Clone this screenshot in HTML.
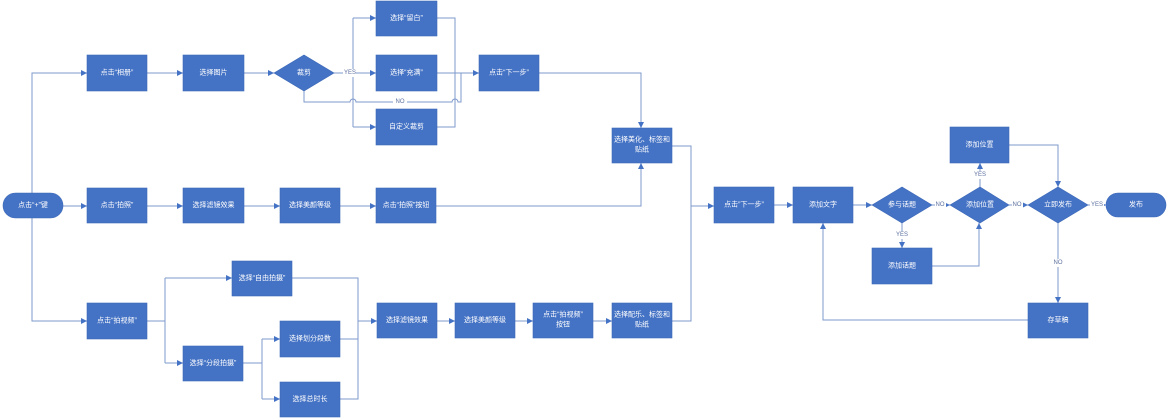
<!DOCTYPE html>
<html>
<head>
<meta charset="utf-8">
<style>
html,body{margin:0;padding:0;background:#fff;}
svg{display:block;}
text{font-family:"Liberation Sans","Noto Sans CJK SC",sans-serif;}
.bt{fill:#fff;font-size:7px;text-anchor:middle;dominant-baseline:central;}
.lb{fill:#5b6f9e;font-size:6px;text-anchor:middle;dominant-baseline:central;}
.ln{fill:none;stroke:#7f98cc;stroke-width:1;}
.bx{fill:#4472c4;stroke:#3d69b8;stroke-width:0.6;}
</style>
</head>
<body>
<svg width="1169" height="418" viewBox="0 0 1169 418" xmlns="http://www.w3.org/2000/svg">
<defs>
<marker id="a" markerUnits="userSpaceOnUse" markerWidth="7" markerHeight="7" refX="6" refY="3.5" orient="auto">
<path d="M0,0.5 L6,3.5 L0,6.5 z" fill="#4472c4"/>
</marker>
</defs>

<!-- connectors -->
<g class="ln">
<!-- start branches -->
<path d="M63,206 H87" marker-end="url(#a)"/>
<path d="M32,193 V73 H87" marker-end="url(#a)"/>
<path d="M32,218 V321 H87" marker-end="url(#a)"/>
<!-- row 1 -->
<path d="M147,73 H183" marker-end="url(#a)"/>
<path d="M244,73 H274" marker-end="url(#a)"/>
<path d="M334,73 H376" marker-end="url(#a)"/>
<path d="M353,18 V127"/>
<path d="M353,18 H376" marker-end="url(#a)"/>
<path d="M353,127 H376" marker-end="url(#a)"/>
<path d="M437,18 H455 V127 H437"/>
<path d="M437,73 H479" marker-end="url(#a)"/>
<path d="M304,91 V102 H350 a3,3 0 0 1 6,0 H452 a3,3 0 0 1 6,0 H461 V73"/>
<path d="M539,73 H641 V128" marker-end="url(#a)"/>
<!-- row 2 -->
<path d="M147,206 H183" marker-end="url(#a)"/>
<path d="M244,206 H280" marker-end="url(#a)"/>
<path d="M340,206 H376" marker-end="url(#a)"/>
<path d="M436,206 H641 V163" marker-end="url(#a)"/>
<!-- row 3 -->
<path d="M147,321 H165"/>
<path d="M165,278 V363"/>
<path d="M165,278 H232" marker-end="url(#a)"/>
<path d="M165,363 H183" marker-end="url(#a)"/>
<path d="M243,363 H262"/>
<path d="M262,339 V399"/>
<path d="M262,339 H280" marker-end="url(#a)"/>
<path d="M262,399 H280" marker-end="url(#a)"/>
<path d="M292,278 H358 V399 H340"/>
<path d="M340,339 H358"/>
<path d="M358,321 H377" marker-end="url(#a)"/>
<path d="M437,321 H455" marker-end="url(#a)"/>
<path d="M515,321 H533" marker-end="url(#a)"/>
<path d="M593,321 H612" marker-end="url(#a)"/>
<!-- merge -->
<path d="M672,146 H691 V321 H672"/>
<path d="M691,206 H714" marker-end="url(#a)"/>
<path d="M774,205 H793" marker-end="url(#a)"/>
<path d="M853,205 H872" marker-end="url(#a)"/>
<path d="M902,223 V248" marker-end="url(#a)"/>
<path d="M932,205 H950" marker-end="url(#a)"/>
<path d="M932,266 H979 V223" marker-end="url(#a)"/>
<path d="M980,187 V163" marker-end="url(#a)"/>
<path d="M1009,205 H1028" marker-end="url(#a)"/>
<path d="M1009,145 H1058 V187" marker-end="url(#a)"/>
<path d="M1088,205 H1106" marker-end="url(#a)"/>
<path d="M1058,223 V303" marker-end="url(#a)"/>
<path d="M1028,320 H823 V223" marker-end="url(#a)"/>
</g>

<!-- connector labels -->
<g>
<rect x="343" y="69" width="13" height="8" fill="#fff"/>
<text class="lb" x="350" y="73">YES</text>
<rect x="393" y="98" width="14" height="8" fill="#fff"/>
<text class="lb" x="400" y="102">NO</text>
<rect x="895" y="231" width="14" height="8" fill="#fff"/>
<text class="lb" x="902" y="235">YES</text>
<rect x="935" y="201" width="11" height="8" fill="#fff"/>
<text class="lb" x="940" y="205">NO</text>
<rect x="973" y="171" width="14" height="8" fill="#fff"/>
<text class="lb" x="980" y="175">YES</text>
<rect x="1012" y="201" width="11" height="8" fill="#fff"/>
<text class="lb" x="1017" y="205">NO</text>
<rect x="1090" y="201" width="14" height="8" fill="#fff"/>
<text class="lb" x="1097" y="205">YES</text>
<rect x="1052" y="259" width="12" height="8" fill="#fff"/>
<text class="lb" x="1058" y="263">NO</text>
</g>

<!-- nodes -->
<g>
<!-- terminators -->
<rect class="bx" x="3" y="193" width="60" height="25" rx="12.5"/>
<text class="bt" x="33" y="205.5">点击“+”键</text>
<rect class="bx" x="1106" y="193" width="60" height="24" rx="12"/>
<text class="bt" x="1136" y="205">发布</text>

<!-- row 1 -->
<rect class="bx" x="87" y="55" width="60" height="36"/>
<text class="bt" x="117" y="73">点击“相册”</text>
<rect class="bx" x="183" y="55" width="61" height="36"/>
<text class="bt" x="213.5" y="73">选择图片</text>
<path class="bx" d="M274,73 L304,55 L334,73 L304,91 Z"/>
<text class="bt" x="304" y="73">裁剪</text>
<rect class="bx" x="376" y="1" width="61" height="35"/>
<text class="bt" x="406.5" y="18.5">选择“留白”</text>
<rect class="bx" x="376" y="55" width="61" height="36"/>
<text class="bt" x="406.5" y="73">选择“充满”</text>
<rect class="bx" x="376" y="109" width="61" height="36"/>
<text class="bt" x="406.5" y="127">自定义裁剪</text>
<rect class="bx" x="479" y="55" width="60" height="36"/>
<text class="bt" x="509" y="73">点击“下一步”</text>
<rect class="bx" x="612" y="128" width="60" height="35"/>
<text class="bt" x="642" y="140">选择美化、标签和</text>
<text class="bt" x="642" y="150">贴纸</text>

<!-- row 2 -->
<rect class="bx" x="87" y="188" width="60" height="35"/>
<text class="bt" x="117" y="205.5">点击“拍照”</text>
<rect class="bx" x="183" y="188" width="61" height="35"/>
<text class="bt" x="213.5" y="205.5">选择滤镜效果</text>
<rect class="bx" x="280" y="188" width="60" height="35"/>
<text class="bt" x="310" y="205.5">选择美颜等级</text>
<rect class="bx" x="376" y="188" width="60" height="35"/>
<text class="bt" x="406" y="205.5">点击“拍照”按钮</text>

<!-- row 3 -->
<rect class="bx" x="87" y="303" width="60" height="36"/>
<text class="bt" x="117" y="321">点击“拍视频”</text>
<rect class="bx" x="232" y="261" width="60" height="35"/>
<text class="bt" x="262" y="278.5">选择“自由拍摄”</text>
<rect class="bx" x="183" y="346" width="60" height="35"/>
<text class="bt" x="213" y="363.5">选择“分段拍摄”</text>
<rect class="bx" x="280" y="321" width="60" height="36"/>
<text class="bt" x="310" y="339">选择划分段数</text>
<rect class="bx" x="280" y="382" width="60" height="35"/>
<text class="bt" x="310" y="399.5">选择总时长</text>
<rect class="bx" x="377" y="303" width="60" height="35"/>
<text class="bt" x="407" y="320.5">选择滤镜效果</text>
<rect class="bx" x="455" y="303" width="60" height="35"/>
<text class="bt" x="485" y="320.5">选择美颜等级</text>
<rect class="bx" x="533" y="303" width="60" height="35"/>
<text class="bt" x="563" y="315">点击“拍视频”</text>
<text class="bt" x="563" y="325">按钮</text>
<rect class="bx" x="612" y="303" width="60" height="35"/>
<text class="bt" x="642" y="315">选择配乐、标签和</text>
<text class="bt" x="642" y="325">贴纸</text>

<!-- right section -->
<rect class="bx" x="714" y="187" width="60" height="36"/>
<text class="bt" x="744" y="205">点击”下一步”</text>
<rect class="bx" x="793" y="187" width="60" height="36"/>
<text class="bt" x="823" y="205">添加文字</text>
<path class="bx" d="M872,205 L902,187 L932,205 L902,223 Z"/>
<text class="bt" x="902" y="205">参与话题</text>
<rect class="bx" x="872" y="248" width="60" height="36"/>
<text class="bt" x="902" y="266">添加话题</text>
<path class="bx" d="M950,205 L980,187 L1009,205 L980,223 Z"/>
<text class="bt" x="980" y="205">添加位置</text>
<rect class="bx" x="950" y="127" width="59" height="36"/>
<text class="bt" x="979.5" y="145">添加位置</text>
<path class="bx" d="M1028,205 L1058,187 L1088,205 L1058,223 Z"/>
<text class="bt" x="1058" y="205">立即发布</text>
<rect class="bx" x="1028" y="303" width="60" height="35"/>
<text class="bt" x="1058" y="320.5">存草稿</text>
</g>
</svg>
</body>
</html>
